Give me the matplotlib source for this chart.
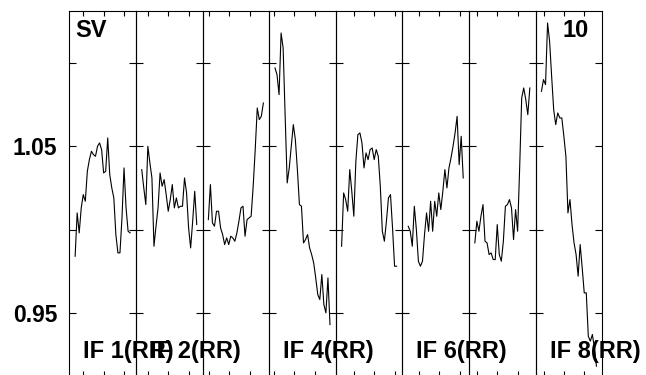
import numpy as np
import matplotlib.pyplot as plt

plt.rcParams['font.family'] = ['Liberation Sans', 'DejaVu Sans']

# amplitude per channel, one list per IF panel
if1 = [0.984, 1.010, 0.998, 1.013, 1.021, 1.017, 1.035, 1.042, 1.047, 1.045, 1.044, 1.050, 1.052, 1.048,
       1.034, 1.035, 1.055, 1.033, 1.025, 1.019, 0.997, 0.986, 0.986, 1.007, 1.037, 1.013, 0.999, 0.998]
if2 = [1.036, 1.025, 1.015, 1.050, 1.040, 1.031, 0.990, 1.002, 1.013, 1.034, 1.026, 1.030, 1.021, 1.011,
       1.018, 1.027, 1.013, 1.019, 1.013, 1.014, 1.014, 1.031, 1.022, 1.001, 0.989, 1.005, 1.023, 1.003]
if3 = [1.006, 1.027, 1.004, 1.002, 1.011, 1.011, 1.001, 0.997, 0.991, 0.995, 0.991, 0.996, 0.995, 0.993,
       0.998, 1.005, 1.013, 1.014, 0.996, 1.006, 1.007, 1.008, 1.026, 1.048, 1.073, 1.066, 1.068, 1.076]
if4 = [1.097, 1.093, 1.081, 1.118, 1.109, 1.068, 1.028, 1.037, 1.050, 1.063, 1.054, 1.036, 1.015, 1.014,
       0.992, 0.994, 0.997, 0.989, 0.985, 0.980, 0.971, 0.961, 0.958, 0.973, 0.955, 0.950, 0.971, 0.943]
if5 = [0.990, 1.022, 1.018, 1.011, 1.036, 1.023, 1.008, 1.041, 1.057, 1.058, 1.052, 1.037, 1.046, 1.042,
       1.048, 1.049, 1.042, 1.048, 1.044, 1.026, 0.999, 0.993, 1.005, 1.019, 1.021, 1.001, 0.978, 0.978]
if6 = [1.002, 0.999, 0.990, 1.014, 1.000, 0.981, 0.978, 0.981, 0.997, 1.010, 0.999, 1.017, 0.999, 1.017,
       1.008, 1.022, 1.012, 1.023, 1.036, 1.025, 1.037, 1.043, 1.050, 1.058, 1.068, 1.039, 1.056, 1.031]
if7 = [0.992, 1.005, 0.999, 1.008, 1.015, 0.993, 0.992, 0.985, 0.986, 0.982, 0.982, 1.003, 0.985, 0.981,
       0.993, 1.014, 1.015, 1.018, 1.013, 0.994, 1.012, 0.999, 1.037, 1.079, 1.085, 1.078, 1.069, 1.085]
if8 = [1.083, 1.090, 1.087, 1.124, 1.113, 1.092, 1.072, 1.063, 1.070, 1.067, 1.067, 1.056, 1.044, 1.010,
       1.018, 1.003, 0.992, 0.985, 0.972, 0.991, 0.977, 0.962, 0.962, 0.936, 0.933, 0.937, 0.929, 0.918]
amps = [if1, if2, if3, if4, if5, if6, if7, if8]

if_labels = ['IF 1(RR)', 'IF 2(RR)', '', 'IF 4(RR)', '', 'IF 6(RR)', '', 'IF 8(RR)']
y_ticks = [0.95, 1.00, 1.05, 1.10]
y_ticklabels = ['0.95', '', '1.05', '']

# channel tick marks along top/bottom of each panel
x_ticks = [[4, 14, 24], [3, 13, 23], [0.3, 10.3, 20.3], [-0.5, 9.5, 19.5],
           [6, 16, 26], [5.2, 15.2, 25.2], [1.1, 11.1, 21.1], [1.1, 11.1, 21.1]]

fig, axes = plt.subplots(1, 8, figsize=(6.46, 3.75), dpi=100)
fig.subplots_adjust(left=0.1073, right=0.9323, bottom=-0.0027, top=0.972, wspace=0)

for i, ax in enumerate(axes):
    y = amps[i]
    ax.set_facecolor('none')
    ax.plot(np.arange(len(y)), y, color='black', lw=0.8, zorder=3)
    ax.set_xlim(-2.85, 29.85)
    ax.set_ylim(0.9121, 1.1315)
    ax.set_yticks(y_ticks)
    ax.set_xticks(x_ticks[i])
    ax.tick_params(axis='y', direction='in', left=True, right=True, length=5, width=0.8,
                   labelleft=False)
    ax.tick_params(axis='x', direction='in', top=True, bottom=True, length=3.6, width=0.8,
                   labelbottom=False)
    for sp in ax.spines.values():
        sp.set_linewidth(0.8)
    if if_labels[i]:
        ax.text(0.21, 0.049, if_labels[i], transform=ax.transAxes, fontsize=17,
                fontweight='bold', va='baseline', ha='left', zorder=2)

axes[0].set_yticklabels(y_ticklabels, fontsize=16.5, fontweight='bold')
axes[0].tick_params(axis='y', labelleft=True, pad=8.6)

axes[0].text(0.09, 0.927, 'SV', transform=axes[0].transAxes, fontsize=17,
             fontweight='bold', va='baseline', ha='left')
axes[7].text(0.79, 0.927, '10', transform=axes[7].transAxes, fontsize=17,
             fontweight='bold', va='baseline', ha='right')

fig.savefig('out.png', dpi=100)
